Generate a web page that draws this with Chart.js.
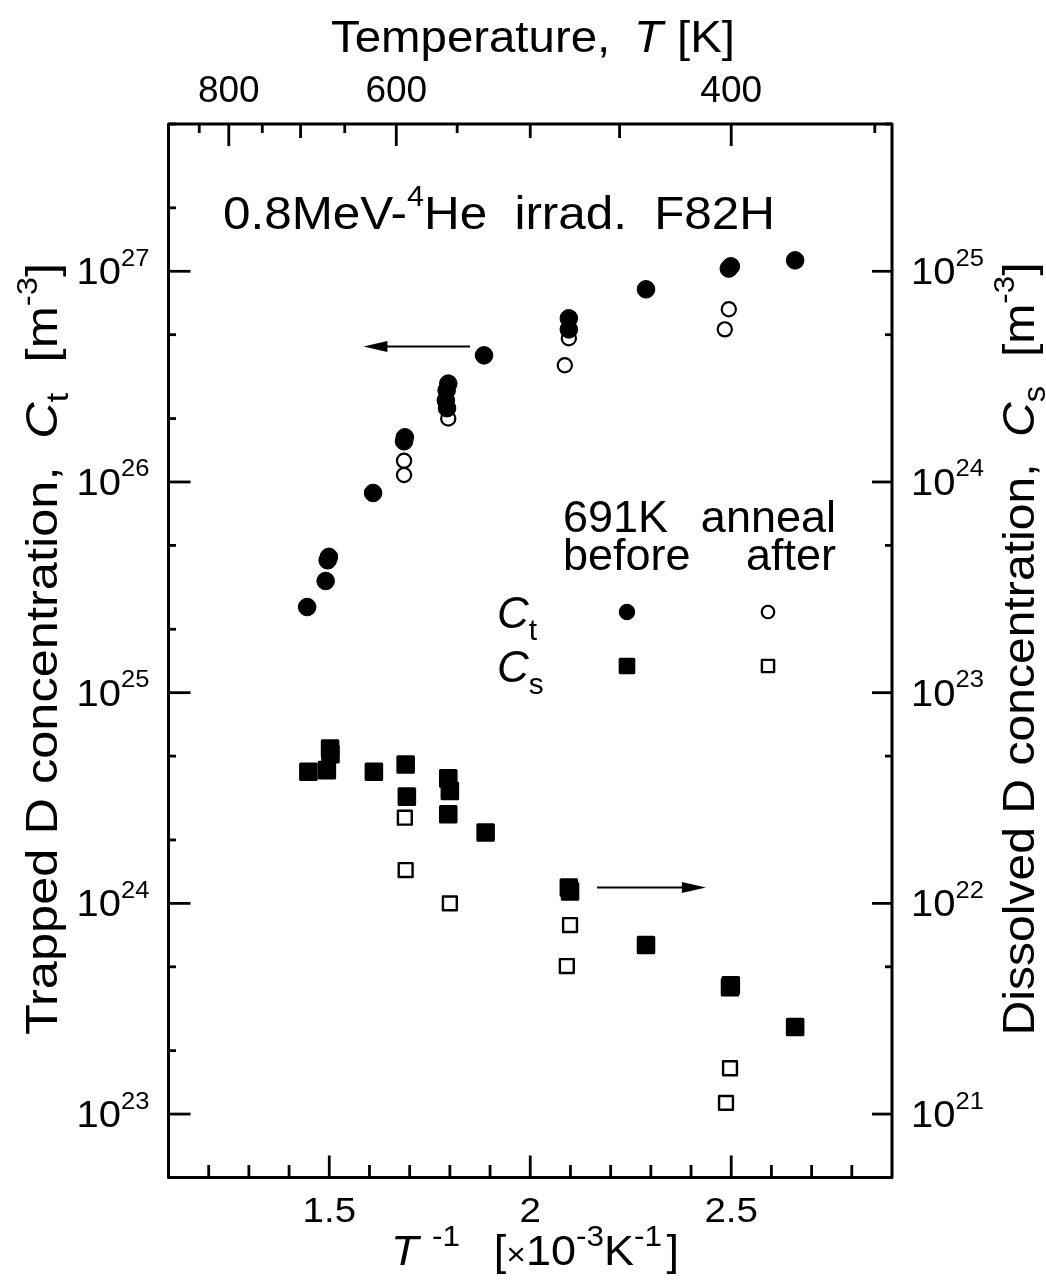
<!DOCTYPE html>
<html><head><meta charset="utf-8">
<script src="https://cdn.jsdelivr.net/npm/chart.js@4.4.1/dist/chart.umd.min.js"></script>
<style>html,body{margin:0;padding:0;background:#fff}#wrap{width:1046px;height:1280px;position:relative}</style>
</head><body><div id="wrap"><canvas id="c"></canvas></div>
<script>
// ---- data: x = 1/T [1e-3 K^-1] ----
const ctBeforeX = [1.445,1.491,1.499,1.496,1.609,1.688,1.686,1.796,1.792,1.790,1.793,1.885,2.096,2.096,2.288,2.499,2.494,2.659];
const ctBeforeY = [2.55e25,3.39e25,4.41e25,4.25e25,8.87e25,1.63e26,1.56e26,2.93e26,2.72e26,2.44e26,2.24e26,3.99e26,5.98e26,5.30e26,8.21e26,1.056e27,1.03e27,1.127e27];
const ctAfterX = [1.686,1.686,1.796,2.086,2.096,2.484,2.494];
const ctAfterY = [1.26e26,1.08e26,2.0e26,3.58e26,4.81e26,5.30e26,6.6e26];
const csBeforeX = [1.448,1.494,1.502,1.503,1.611,1.690,1.693,1.796,1.800,1.796,1.889,2.096,2.099,2.288,2.499,2.497,2.659];
const csBeforeY = [4.21e22,4.29e22,5.43e22,5.11e22,4.21e22,4.56e22,3.21e22,3.92e22,3.42e22,2.65e22,2.17e22,1.19e22,1.14e22,6.34e21,4.09e21,4.0e21,2.59e21];
const csAfterX = [1.688,1.690,1.800,2.099,2.091,2.497,2.487];
const csAfterY = [2.55e22,1.44e22,1.0e22,7.89e21,5.04e21,1.65e21,1.13e21];

// ---- ticks ----
const xMajorTicks = [1.5, 2, 2.5];
const xTickLabels = ['1.5', '2', '2.5'];
const xMinorTicks = [1.2,1.3,1.4,1.6,1.7,1.8,1.9,2.1,2.2,2.3,2.4,2.6,2.7,2.8];
const topTempMajor = [800, 600, 400];
const topTempMedium = [700, 500, 450];
const topTempMinor = [850, 750, 650, 550, 350];
const leftExponents = [23, 24, 25, 26, 27];
const rightExponents = [21, 22, 23, 24, 25];

const FONT = '"Liberation Sans", Arial, Helvetica, sans-serif';
const toPts = (xs, ys) => xs.map((x, i) => ({x, y: ys[i]}));

function drawRuns(ctx, parts, x, y, o) {
  const size = o.size, align = o.align || 'left';
  const items = parts.map(p => {
    if (p.gap !== undefined) return {gap: p.gap * size};
    const fs = size * (p.rel || ((p.sup || p.sub) ? 0.62 : 1));
    const font = (p.it ? 'italic ' : '') + fs + 'px ' + FONT;
    ctx.font = font;
    return {t: p.t, font, w: ctx.measureText(p.t).width,
            dy: p.sup ? -size * (p.rise || 0.42) : (p.sub ? size * (p.drop || 0.25) : 0)};
  });
  const total = items.reduce((s, it) => s + (it.gap !== undefined ? it.gap : it.w), 0);
  let sx = o.scaleX || 1;
  if (o.fit) sx = o.fit / total;
  ctx.save();
  ctx.translate(x, y);
  if (o.rotate) ctx.rotate(o.rotate);
  ctx.scale(sx, 1);
  let cx = align === 'center' ? -total / 2 : (align === 'right' ? -total : 0);
  ctx.textBaseline = 'alphabetic'; ctx.textAlign = 'left'; ctx.fillStyle = '#000';
  for (const it of items) {
    if (it.gap !== undefined) { cx += it.gap; continue; }
    ctx.font = it.font; ctx.fillText(it.t, cx, it.dy); cx += it.w;
  }
  ctx.restore();
}

const styles = {
  ctBefore: {pointStyle: 'circle', radius: 8.8, borderWidth: 1, bg: '#000'},
  ctAfter: {pointStyle: 'circle', radius: 7.1, borderWidth: 2.2, bg: '#fff'},
  csBefore: {pointStyle: 'rect', radius: 11, borderWidth: 3, bg: '#000'},
  csAfter: {pointStyle: 'rect', radius: 9.8, borderWidth: 2.4, bg: '#fff'}
};

const decor = {
  id: 'decor',
  beforeDatasetsDraw(chart) { chart.ctx.lineJoin = 'round'; },
  afterDraw(chart) {
    const ctx = chart.ctx, ca = chart.chartArea;
    const xs = chart.scales.x, ys = chart.scales.y, y2 = chart.scales.y2;
    ctx.save();
    ctx.strokeStyle = '#000'; ctx.lineCap = 'butt';
    const line = (a, b, c, d) => { ctx.beginPath(); ctx.moveTo(a, b); ctx.lineTo(c, d); ctx.stroke(); };
    // ticks
    ctx.lineWidth = 2.8;
    xMajorTicks.forEach(v => { const p = xs.getPixelForValue(v); line(p, ca.bottom, p, ca.bottom - 22); });
    xMinorTicks.forEach(v => { const p = xs.getPixelForValue(v); line(p, ca.bottom, p, ca.bottom - 12.5); });
    topTempMajor.forEach(T => { const p = xs.getPixelForValue(1000 / T); line(p, ca.top, p, ca.top + 22); });
    topTempMedium.forEach(T => { const p = xs.getPixelForValue(1000 / T); line(p, ca.top, p, ca.top + 14); });
    topTempMinor.forEach(T => { const p = xs.getPixelForValue(1000 / T); line(p, ca.top, p, ca.top + 9); });
    for (let e = 22; e <= 27; e++) {
      [1, 2, 5].forEach(m => {
        const v = m * Math.pow(10, e);
        if (v < ys.min || v > ys.max) return;
        const p = ys.getPixelForValue(v);
        line(ca.left, p, ca.left + (m === 1 ? 22 : 7.5), p);
      });
    }
    for (let e = 20; e <= 25; e++) {
      [1, 5].forEach(m => {
        const v = m * Math.pow(10, e);
        if (v < y2.min || v > y2.max) return;
        const p = y2.getPixelForValue(v);
        line(ca.right, p, ca.right - (m === 1 ? 20 : 7), p);
      });
    }
    // frame
    ctx.lineWidth = 3;
    ctx.strokeRect(ca.left, ca.top, ca.right - ca.left, ca.bottom - ca.top);

    // tick labels
    xMajorTicks.forEach((v, i) => drawRuns(ctx, [{t: xTickLabels[i]}], xs.getPixelForValue(v), ca.bottom + 44, {size: 35, align: 'center', scaleX: 1.1}));
    topTempMajor.forEach(T => drawRuns(ctx, [{t: String(T)}], xs.getPixelForValue(1000 / T), ca.top - 22, {size: 37, align: 'center'}));
    leftExponents.forEach(e => {
      const p = ys.getPixelForValue(Math.pow(10, e));
      drawRuns(ctx, [{t: '10'}, {t: String(e), sup: 1, rel: 0.64, rise: 0.5}], ca.left - 19, p + 13, {size: 37, align: 'right', scaleX: 1.08});
    });
    rightExponents.forEach(e => {
      const p = y2.getPixelForValue(Math.pow(10, e));
      drawRuns(ctx, [{t: '10'}, {t: String(e), sup: 1, rel: 0.64, rise: 0.5}], ca.right + 19, p + 13, {size: 37, align: 'left', scaleX: 1.08});
    });

    // axis titles
    drawRuns(ctx, [{t: 'Temperature,'}, {gap: 0.5}, {t: 'T', it: 1}, {gap: 0.3}, {t: '[K]'}], 533, 52, {size: 45, align: 'center', fit: 404});
    drawRuns(ctx, [{t: 'T', it: 1}, {gap: 0.3}, {t: '-1', sup: 1, rel: 0.7, rise: 0.45}, {gap: 0.75}, {t: '['}, {t: '\u00d7', rel: 0.75}, {t: '10'}, {t: '-3', sup: 1, rel: 0.7, rise: 0.45}, {t: 'K'}, {t: '-1', sup: 1, rel: 0.7, rise: 0.45}, {gap: 0.1}, {t: ']'}],
      391, 1265, {size: 42, align: 'left', fit: 288});
    drawRuns(ctx, [{t: 'Trapped D concentration,'}, {gap: 0.55}, {t: 'C', it: 1}, {t: 't', sub: 1, rel: 0.68}, {gap: 0.6}, {t: '[m'}, {t: '-3', sup: 1, rel: 0.65, rise: 0.45}, {t: ']'}],
      57, 649, {size: 45, align: 'center', rotate: -Math.PI / 2, fit: 772});
    drawRuns(ctx, [{t: 'Dissolved D concentration,'}, {gap: 0.55}, {t: 'C', it: 1}, {t: 's', sub: 1, rel: 0.68}, {gap: 0.6}, {t: '[m'}, {t: '-3', sup: 1, rel: 0.65, rise: 0.45}, {t: ']'}],
      1034, 649, {size: 45, align: 'center', rotate: -Math.PI / 2, fit: 773});

    // annotation
    drawRuns(ctx, [{t: '0.8MeV-'}, {t: '4', sup: 1, rel: 0.62, rise: 0.5}, {t: 'He'}, {gap: 0.55}, {t: 'irrad.'}, {gap: 0.55}, {t: 'F82H'}], 223, 229, {size: 47, align: 'left', fit: 552});

    // legend block
    drawRuns(ctx, [{t: '691K'}], 563, 532, {size: 45, align: 'left'});
    drawRuns(ctx, [{t: 'anneal'}], 836, 532, {size: 45, align: 'right'});
    drawRuns(ctx, [{t: 'before'}], 563, 570, {size: 45, align: 'left'});
    drawRuns(ctx, [{t: 'after'}], 836, 570, {size: 45, align: 'right'});
    drawRuns(ctx, [{t: 'C', it: 1}, {t: 't', sub: 1, rel: 0.68, drop: 0.27}], 497, 628, {size: 44, align: 'left'});
    drawRuns(ctx, [{t: 'C', it: 1}, {t: 's', sub: 1, rel: 0.68, drop: 0.27}], 497, 682, {size: 44, align: 'left'});
    const legMarks = [
      [styles.ctBefore, 627, 612], [styles.ctAfter, 768, 612],
      [styles.csBefore, 627, 666], [styles.csAfter, 768, 666]
    ];
    legMarks.forEach(([s, x, y]) => {
      ctx.save();
      ctx.lineJoin = 'round';
      ctx.fillStyle = s.bg; ctx.strokeStyle = '#000'; ctx.lineWidth = s.borderWidth;
      Chart.helpers.drawPoint(ctx, {pointStyle: s.pointStyle, radius: s.radius * 0.88, rotation: 0, borderWidth: s.borderWidth}, x, y);
      ctx.restore();
    });

    // arrows (data coordinates)
    const arrow = (x0, x1, yv, scale) => {
      const a = xs.getPixelForValue(x0), b = xs.getPixelForValue(x1), yy = scale.getPixelForValue(yv);
      const dir = Math.sign(b - a);
      ctx.lineWidth = 2;
      line(a, yy, b - dir * 20, yy);
      ctx.beginPath(); ctx.moveTo(b, yy); ctx.lineTo(b - dir * 24, yy - 5.5); ctx.lineTo(b - dir * 24, yy + 5.5); ctx.closePath();
      ctx.fillStyle = '#000'; ctx.fill();
    };
    arrow(1.850, 1.585, 4.4e26, ys);
    arrow(2.166, 2.437, 1.19e22, y2);
    ctx.restore();
  }
};

const mk = (label, pts, s, axis) => ({
  label, data: pts, yAxisID: axis, showLine: false, clip: false,
  pointStyle: s.pointStyle, pointRadius: s.radius, pointHoverRadius: s.radius,
  pointBorderWidth: s.borderWidth, pointBackgroundColor: s.bg, pointBorderColor: '#000'
});

new Chart(document.getElementById('c'), {
  type: 'scatter',
  data: {
    datasets: [
      mk('Ct before', toPts(ctBeforeX, ctBeforeY), styles.ctBefore, 'y'),
      mk('Cs before', toPts(csBeforeX, csBeforeY), styles.csBefore, 'y2'),
      mk('Ct after', toPts(ctAfterX, ctAfterY), styles.ctAfter, 'y'),
      mk('Cs after', toPts(csAfterX, csAfterY), styles.csAfter, 'y2')
    ]
  },
  options: {
    responsive: true, maintainAspectRatio: false, animation: false,
    layout: {padding: {left: 168.5, right: 154, top: 124, bottom: 102.5}},
    plugins: {legend: {display: false}, tooltip: {enabled: false}},
    scales: {
      x: {type: 'linear', min: 1.1, max: 2.9, display: false},
      y: {type: 'logarithmic', min: 5e22, max: 5e27, display: false},
      y2: {type: 'logarithmic', min: 5e20, max: 5e25, display: false}
    }
  },
  plugins: [decor]
});
</script></body></html>
